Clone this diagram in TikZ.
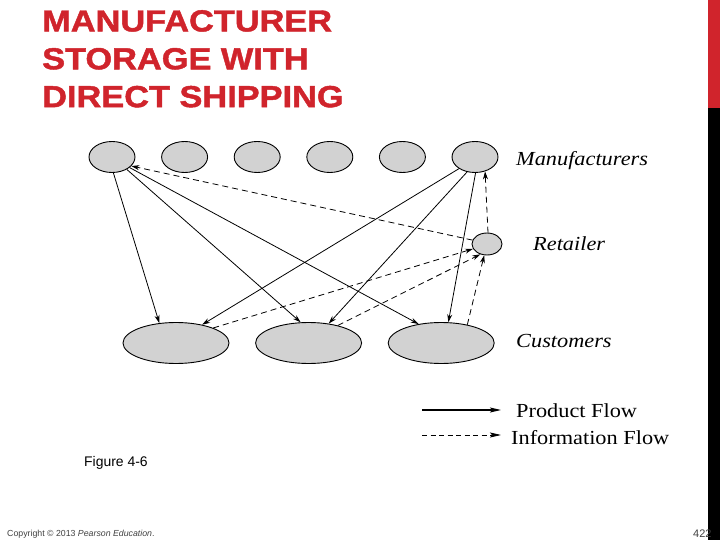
\documentclass[tikz,border=0pt]{standalone}
\usepackage{fontspec}
\setmainfont{Liberation Serif}
\newfontfamily\titlefont[FakeStretch=1.13,FakeBold=1.5]{Liberation Sans}
\newfontfamily\labelfont[FakeStretch=1.12]{Liberation Serif}
\newfontfamily\slidefont{Liberation Sans}
\usepackage{tikz}
\usetikzlibrary{arrows.meta,positioning,shapes.geometric}
\definecolor{slidered}{RGB}{208,36,44}
\definecolor{ovalgray}{RGB}{210,210,210}

\begin{document}
\begin{tikzpicture}[x=1bp, y=-1bp,
  oval/.style={draw, ellipse, fill=ovalgray, line width=0.9bp, inner sep=0pt},
  maker/.style={oval, minimum width=46bp, minimum height=31bp},
  buyer/.style={oval, minimum width=106bp, minimum height=41bp},
  prod/.style={-{Stealth[length=8bp,width=5bp]}, line width=0.8bp},
  info/.style={prod, dash pattern=on 6bp off 4bp},
  lbl/.style={anchor=base west, inner sep=0pt, font=\labelfont\itshape\fontsize{20}{24}\selectfont},
  foot/.style={anchor=base west, inner sep=0pt, text=black!75},
  node distance=25.7bp]
\useasboundingbox (0,0) rectangle (720,540);
\fill[slidered] (708,0) rectangle (720,108);
\fill[black] (708,108) rectangle (720,540);

\node[anchor=north west, inner sep=0pt, align=left, text=slidered,
      font=\titlefont\bfseries\fontsize{30.5}{38}\selectfont] (title) at (42,10)
      {MANUFACTURER\\STORAGE WITH\\DIRECT SHIPPING};

% manufacturers
\node[maker] (m1) at (112,157) {};
\node[maker, right=of m1] (m2) {};
\node[maker, right=of m2] (m3) {};
\node[maker, right=of m3] (m4) {};
\node[maker, right=of m4] (m5) {};
\node[maker, right=of m5] (m6) {};
\node[lbl] (lm) at (516,166) {Manufacturers};

% retailer
\node[oval, minimum width=30bp, minimum height=22bp] (r) at (487,244) {};
\node[lbl] (lr) at (533,251) {Retailer};

% customers
\node[buyer] (c1) at (176,343) {};
\node[buyer, right=of c1] (c2) {};
\node[buyer, right=of c2] (c3) {};
\node[lbl] (lc) at (516,347) {Customers};

\foreach \i/\j in {m1.-85/c1.130, m1.-40/c2.111, m1.-31/c3.140,
                   m6.-144/c1.35, m6.-118/c2.44, m6.-88/c3.71}
  \draw[prod] (\i) -- (\j);
\foreach \i/\j in {c1.22/r.199, c2.31/r.237, c3.35/r.-104, r.165/m1.-25, r.85/m6.-55}
  \draw[info] (\i) -- (\j);

% legend
\coordinate (p0) at (422,410);
\coordinate (p1) at (501,410);
\coordinate (q0) at (422,435);
\coordinate (q1) at (501,435);
\draw[prod, line width=1.1bp, -{Stealth[length=11bp,width=5bp,inset=2bp]}] (p0) -- (p1);
\draw[info, dash pattern=on 5bp off 3.5bp, -{Stealth[length=11bp,width=5bp,inset=2bp]}] (q0) -- (q1);
\node[lbl, font=\labelfont\fontsize{20}{24}\selectfont] (lp) at (516,417) {Product Flow};
\node[lbl, font=\labelfont\fontsize{20}{24}\selectfont] (li) at (511,444) {Information Flow};

\node[anchor=base west, inner sep=0pt, font=\slidefont\fontsize{14}{16}\selectfont] (fig) at (84,466) {Figure 4-6};
\node[foot, font=\slidefont\fontsize{8.8}{10}\selectfont] (copy) at (7,536) {Copyright © 2013 \textit{Pearson Education}.};
\node[foot, font=\slidefont\fontsize{11}{12}\selectfont] (page) at (693,537) {422};
\end{tikzpicture}
\end{document}
